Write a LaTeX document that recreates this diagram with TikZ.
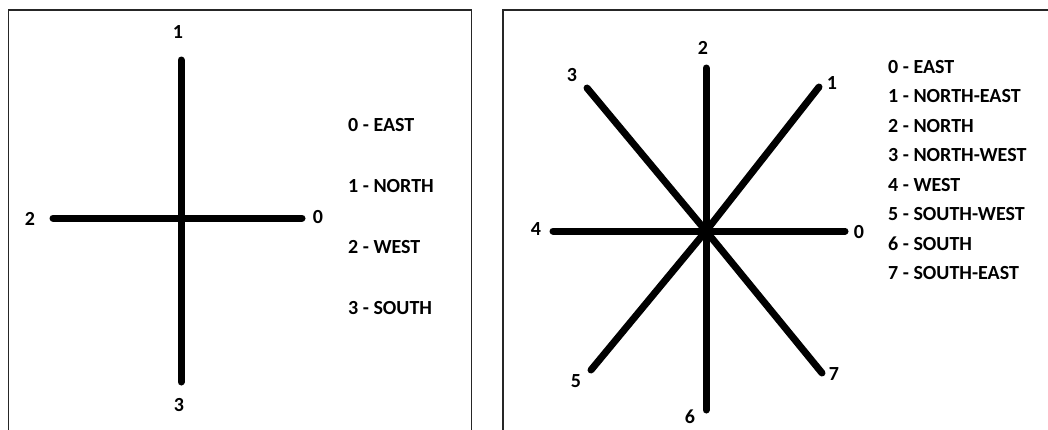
\documentclass[tikz,border=0pt]{standalone}
\usepackage{fontspec}
\setmainfont{Carlito}
\usetikzlibrary{positioning}
\tikzset{
  cd@frame/.style={draw=black!85, line width=1.3pt},
  cd@ray/.style={line width=7pt, line cap=round},
  cd@num/.style={font=\fontsize{20}{24}\selectfont\bfseries, inner sep=0pt},
  cd@key/.style={font=\fontsize{20}{24}\selectfont\bfseries, inner sep=0pt},
}

\begin{document}
\begin{tikzpicture}[x=1pt, y=-1pt]
  \useasboundingbox (0,0) rectangle (1048,429);
  \clip (0,0) rectangle (1048,429);
  \draw[cd@frame] (8.5,10) rectangle (471.5,445);
  \draw[cd@frame] (503,10) rectangle (1065,445);

  \coordinate (fc) at (181,218);
  \coordinate (f0) at (302,218);
  \coordinate (f1) at (181,60);
  \coordinate (f2) at (53,218);
  \coordinate (f3) at (181,382);
  \foreach \d in {0,...,3} \draw[cd@ray] (fc) -- (f\d);
  \node[cd@num] (fl0) at (318,217) {0};
  \node[cd@num] (fl1) at (178,32)  {1};
  \node[cd@num] (fl2) at (30,219)  {2};
  \node[cd@num] (fl3) at (179,405) {3};
  \node[cd@key, anchor=west] (fk0) at (348,125) {0 - EAST};
  \node[cd@key, below=61pt of fk0.west, anchor=west] (fk1) {1 - NORTH};
  \node[cd@key, below=61pt of fk1.west, anchor=west] (fk2) {2 - WEST};
  \node[cd@key, below=61pt of fk2.west, anchor=west] (fk3) {3 - SOUTH};

  \coordinate (sc) at (706,231);
  \coordinate (s0) at (845,231);
  \coordinate (s1) at (819,87);
  \coordinate (s2) at (706,68);
  \coordinate (s3) at (587,88);
  \coordinate (s4) at (553,231);
  \coordinate (s5) at (591,370);
  \coordinate (s6) at (706,410);
  \coordinate (s7) at (822,373);
  \foreach \d in {0,...,7} \draw[cd@ray] (sc) -- (s\d);
  \node[cd@num] (sl0) at (859,232) {0};
  \node[cd@num] (sl1) at (832,83)  {1};
  \node[cd@num] (sl2) at (703,48)  {2};
  \node[cd@num] (sl3) at (572,75)  {3};
  \node[cd@num] (sl4) at (536,229) {4};
  \node[cd@num] (sl5) at (576,381) {5};
  \node[cd@num] (sl6) at (690,417) {6};
  \node[cd@num] (sl7) at (834,374) {7};
  \node[cd@key, anchor=west] (sk0) at (888,67) {0 - EAST};
  \node[cd@key, below=29.5pt of sk0.west, anchor=west] (sk1) {1 - NORTH-EAST};
  \node[cd@key, below=29.5pt of sk1.west, anchor=west] (sk2) {2 - NORTH};
  \node[cd@key, below=29.5pt of sk2.west, anchor=west] (sk3) {3 - NORTH-WEST};
  \node[cd@key, below=29.5pt of sk3.west, anchor=west] (sk4) {4 - WEST};
  \node[cd@key, below=29.5pt of sk4.west, anchor=west] (sk5) {5 - SOUTH-WEST};
  \node[cd@key, below=29.5pt of sk5.west, anchor=west] (sk6) {6 - SOUTH};
  \node[cd@key, below=29.5pt of sk6.west, anchor=west] (sk7) {7 - SOUTH-EAST};
\end{tikzpicture}
\end{document}
